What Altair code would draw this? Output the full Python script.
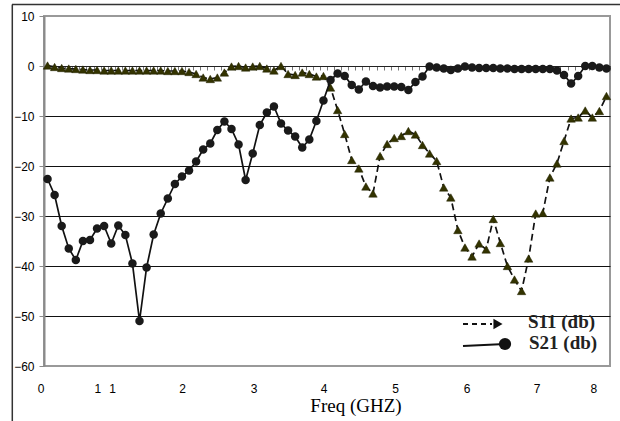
import altair as alt
import pandas as pd

freq = [0.1, 0.2, 0.3, 0.4, 0.5, 0.6, 0.7, 0.8, 0.9, 1.0,
        1.1, 1.2, 1.3, 1.4, 1.5, 1.6, 1.7, 1.8, 1.9, 2.0,
        2.1, 2.2, 2.3, 2.4, 2.5, 2.6, 2.7, 2.8, 2.9, 3.0,
        3.1, 3.2, 3.3, 3.4, 3.5, 3.6, 3.7, 3.8, 3.9, 4.0,
        4.1, 4.2, 4.3, 4.4, 4.5, 4.6, 4.7, 4.8, 4.9, 5.0,
        5.1, 5.2, 5.3, 5.4, 5.5, 5.6, 5.7, 5.8, 5.9, 6.0,
        6.1, 6.2, 6.3, 6.4, 6.5, 6.6, 6.7, 6.8, 6.9, 7.0,
        7.1, 7.2, 7.3, 7.4, 7.5, 7.6, 7.7, 7.8, 7.9, 8.0]

s21 = [-22.6, -25.8, -32.0, -36.5, -38.8, -35.0, -34.8, -32.5, -32.0, -35.5,
       -31.9, -33.8, -39.5, -51.0, -40.3, -33.7, -29.5, -26.5, -23.6, -22.1,
       -20.9, -19.1, -16.7, -15.5, -12.8, -11.1, -12.6, -15.7, -22.8, -17.5,
       -11.8, -9.3, -8.1, -11.5, -12.9, -14.1, -16.3, -14.7, -11.0, -6.9,
       -2.8, -1.5, -2.0, -3.8, -4.7, -3.1, -4.0, -4.3, -4.1, -4.1,
       -4.2, -4.8, -3.2, -2.1, -0.1, -0.3, -0.5, -0.8, -0.5, -0.1,
       -0.3, -0.4, -0.4, -0.4, -0.5, -0.5, -0.6, -0.6, -0.6, -0.6,
       -0.6, -0.6, -0.9, -1.8, -3.5, -2.0, 0.0, 0.0, -0.3, -0.5]

s11 = [0.1, -0.2, -0.4, -0.5, -0.6, -0.7, -0.8, -0.8, -0.9, -0.9,
       -0.9, -0.9, -0.9, -0.9, -0.9, -0.9, -0.9, -1.0, -1.0, -1.0,
       -1.2, -1.6, -2.3, -2.6, -2.3, -1.3, -0.1, 0.0, -0.3, -0.1,
       0.0, -0.5, -0.9, 0.0, -1.6, -1.8, -1.3, -1.6, -2.1, -2.0,
       -4.3, -8.8, -13.6, -18.8, -20.5, -24.1, -25.5, -18.0, -15.6, -14.4,
       -14.0, -13.0, -13.7, -15.8, -17.5, -19.0, -24.3, -26.3, -32.8, -36.3,
       -38.1, -35.5, -36.7, -30.6, -35.4, -40.0, -42.7, -45.0, -38.5, -29.5,
       -29.4, -22.3, -19.5, -15.0, -10.5, -10.3, -8.9, -10.3, -9.0, -6.0]

xtick_pos = [0.01, 0.81, 1.02, 2.01, 3.02, 4.01, 5.02, 6.03, 7.02, 7.82]
xtick_lab = ["0", "1", "1", "2", "3", "4", "5", "6", "7", "8"]
yticks = [10, 0, -10, -20, -30, -40, -50, -60]

df = pd.DataFrame({"freq": freq, "S11": s11, "S21": s21})
ticks_df = pd.DataFrame({"pos": xtick_pos, "lab": xtick_lab})
one = pd.DataFrame({"a": [0]})

W, H = 566, 350
SANS = "Liberation Sans"
SERIF = "Liberation Serif"

xscale = alt.Scale(domain=[0.05, 8.05], nice=False, zero=False)
yscale = alt.Scale(domain=[-60, 10], nice=False, zero=False)

xaxis = alt.Axis(
    orient="bottom", offset=-300, title=None, labels=False, grid=False,
    values=[round(0.05 + 0.1 * k, 2) for k in range(81)],
    domainColor="#222", domainWidth=1, tickColor="#777", tickSize=4, tickWidth=1,
)
yaxis = alt.Axis(
    values=yticks, title=None, format="d",
    labelFont=SANS, labelFontSize=12, labelColor="black", labelPadding=5,
    domainColor="#8a8a8a", domainWidth=2, tickColor="#8a8a8a", tickSize=5, tickWidth=1,
    grid=True, gridWidth=1,
    gridColor={"condition": {"test": "datum.value <= -10 && datum.value >= -50", "value": "#111"},
               "value": "transparent"},
)

X = alt.X("freq:Q", scale=xscale, axis=xaxis)

base = alt.Chart(df)

s11_line = base.mark_line(color="#111", strokeWidth=1.7, strokeDash=[7, 4]).encode(
    x=X, y=alt.Y("S11:Q", scale=yscale, axis=yaxis))
s11_pts = base.mark_point(shape="triangle-up", filled=True, opacity=1, size=72,
                          color="#333300", stroke="#222200", strokeWidth=0.5).encode(
    x=X, y=alt.Y("S11:Q", scale=yscale, axis=yaxis))
s21_line = base.mark_line(color="#111", strokeWidth=1.7).encode(
    x=X, y=alt.Y("S21:Q", scale=yscale, axis=yaxis))
s21_pts = base.mark_point(shape="circle", filled=True, opacity=1, size=72, color="#1a1a1a").encode(
    x=X, y=alt.Y("S21:Q", scale=yscale, axis=yaxis))

xlabels = alt.Chart(ticks_df).mark_text(font=SANS, fontSize=12, color="black", baseline="middle").encode(
    x=alt.X("pos:Q", scale=xscale, axis=xaxis), y=alt.value(373), text="lab:N")

xtitle = alt.Chart(one).mark_text(text="Freq (GHZ)", font=SERIF, fontSize=19, color="black",
                                  baseline="middle").encode(x=alt.value(312), y=alt.value(390))

# legend
leg_dash = alt.Chart(one).mark_rule(color="#111", strokeWidth=2, strokeDash=[5, 4]).encode(
    x=alt.value(419), x2=alt.value(448), y=alt.value(308))
leg_arrow = alt.Chart(one).mark_point(shape="triangle-right", filled=True, opacity=1, size=110,
                                      color="#111").encode(x=alt.value(454), y=alt.value(308))
leg_s11 = alt.Chart(one).mark_text(text="S11 (db)", font=SERIF, fontSize=19, fontWeight="bold",
                                   color="#222", align="left", baseline="middle").encode(
    x=alt.value(484), y=alt.value(306))
leg_solid = alt.Chart(one).mark_rule(color="#111", strokeWidth=2).encode(
    x=alt.value(419), x2=alt.value(461), y=alt.value(330), y2=alt.value(328))
leg_circle = alt.Chart(one).mark_point(shape="circle", filled=True, opacity=1, size=150,
                                       color="#111").encode(x=alt.value(461), y=alt.value(328))
leg_s21 = alt.Chart(one).mark_text(text="S21 (db)", font=SERIF, fontSize=19, fontWeight="bold",
                                   color="#222", align="left", baseline="middle").encode(
    x=alt.value(485), y=alt.value(327))

# outer frame lines (top and left)
frame_top = alt.Chart(one).mark_rule(color="#333", strokeWidth=1.5).encode(
    x=alt.value(-32), x2=alt.value(590), y=alt.value(-11.5))
frame_left = alt.Chart(one).mark_rule(color="#333", strokeWidth=1.5).encode(
    x=alt.value(-31.7), y=alt.value(-11.5), y2=alt.value(420))

chart = alt.layer(
    s11_line, s11_pts, s21_line, s21_pts, xlabels, xtitle,
    leg_dash, leg_arrow, leg_s11, leg_solid, leg_circle, leg_s21,
    frame_top, frame_left,
).properties(
    width=W, height=H,
    autosize=alt.AutoSizeParams(type="none"),
    padding={"left": 44, "top": 16, "right": 10, "bottom": 55},
    background="white",
).configure_view(stroke="#999", strokeWidth=2)

chart.save("out.html", embed_options={"renderer": "svg", "actions": False})
